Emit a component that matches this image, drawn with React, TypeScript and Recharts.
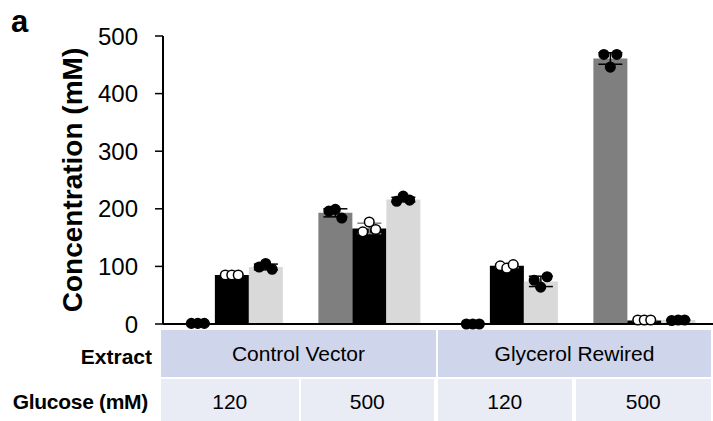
import React from "react";
import {
  Bar,
  ComposedChart,
  ErrorBar,
  Scatter,
  XAxis,
  YAxis,
} from "recharts";

const groups = ["CV-120", "CV-500", "GR-120", "GR-500"];
const extracts = ["Control Vector", "Glycerol Rewired"];
const glucose = ["120", "500", "120", "500"];
const yTicks = [0, 100, 200, 300, 400, 500];

// bar means (mM)
const grayMean = [1, 193, 0.5, 461];
const blackMean = [85, 166, 101, 6];
const lightMean = [99, 216, 74, 7];

// error (SD)
const grayErr = [0.5, 7, 0.5, 10];
const blackErr = [1, 9, 3, 1];
const lightErr = [5, 4, 9, 1];

// individual replicates, left / middle / right
const grayReps = [
  [1, 1, 1],
  [196, 199, 184],
  [0, 0, 0],
  [468, 446, 468],
];
const blackReps = [
  [85, 85, 85],
  [160, 177, 164],
  [101, 97, 103],
  [7, 7, 7],
];
const lightReps = [
  [99, 105, 95],
  [213, 222, 215],
  [76, 64, 82],
  [6, 7, 7],
];

const FONT = "'Liberation Sans', Arial, sans-serif";
const W = 713;
const PLOT_LEFT = 163;
const GAP = 0.13; // barCategoryGap as fraction of band
const JITTER = 0.047;

const rows = groups.map((name, i) => ({
  name,
  gray: grayMean[i],
  black: blackMean[i],
  light: lightMean[i],
  grayErr: grayErr[i],
  blackErr: blackErr[i],
  lightErr: lightErr[i],
}));

const barW = (1 - 2 * GAP) / 3;
function dots(reps: number[][], s: number) {
  return reps.flatMap((r, i) =>
    r.map((v, j) => ({ x: i + GAP + barW * (s + 0.5) + (j - 1) * JITTER, y: v }))
  );
}

const dot = (fill: string) => (p: any) =>
  <circle cx={p.cx} cy={p.cy} r={4.8} fill={fill} stroke="#000" strokeWidth={1.5} />;

export default function App() {
  const band = (W - PLOT_LEFT) / groups.length;
  return (
    <div style={{ position: "absolute", left: 0, top: 0, width: W, height: 421, background: "#fff", fontFamily: FONT, overflow: "hidden" }}>
      <div style={{ position: "absolute", left: 11, top: 4, fontSize: 31, fontWeight: 700, lineHeight: "36px" }}>a</div>
      <ComposedChart
        width={W}
        height={345}
        data={rows}
        margin={{ top: 36, right: 0, bottom: 20, left: 0 }}
        barCategoryGap={`${GAP * 100}%`}
        barGap={0}
      >
        <XAxis
          xAxisId="cat"
          dataKey="name"
          type="category"
          height={1}
          tick={false}
          tickLine={false}
          axisLine={{ stroke: "#000", strokeWidth: 2 }}
        />
        <XAxis xAxisId="num" dataKey="x" type="number" domain={[0, groups.length]} allowDataOverflow hide />
        <YAxis
          width={PLOT_LEFT}
          domain={[0, 500]}
          ticks={yTicks}
          interval={0}
          tickSize={8}
          tickMargin={17}
          axisLine={{ stroke: "#000", strokeWidth: 2 }}
          tickLine={{ stroke: "#000", strokeWidth: 1.5 }}
          tick={{ fontSize: 24, fill: "#000", fontFamily: FONT }}
          label={{
            content: ({ viewBox }: any) => {
              const x = 72;
              const y = viewBox.y + viewBox.height / 2;
              return (
                <text
                  x={x}
                  y={y}
                  transform={`rotate(-90, ${x}, ${y})`}
                  textAnchor="middle"
                  dominantBaseline="central"
                  fontSize={28}
                  fontWeight={700}
                  fontFamily={FONT}
                  fill="#000"
                >
                  Concentration (mM)
                </text>
              );
            },
          }}
        />
        <Bar xAxisId="cat" dataKey="gray" fill="#7f7f7f" isAnimationActive={false}>
          <ErrorBar dataKey="grayErr" width={12} stroke="#000" strokeWidth={1.5} direction="y" />
        </Bar>
        <Bar xAxisId="cat" dataKey="black" fill="#000000" isAnimationActive={false}>
          <ErrorBar dataKey="blackErr" width={12} stroke="#808080" strokeWidth={1.5} direction="y" />
        </Bar>
        <Bar xAxisId="cat" dataKey="light" fill="#d9d9d9" isAnimationActive={false}>
          <ErrorBar dataKey="lightErr" width={12} stroke="#000" strokeWidth={1.5} direction="y" />
        </Bar>
        <Scatter xAxisId="num" data={dots(grayReps, 0)} dataKey="y" shape={dot("#000")} isAnimationActive={false} />
        <Scatter xAxisId="num" data={dots(blackReps, 1)} dataKey="y" shape={dot("#fff")} isAnimationActive={false} />
        <Scatter xAxisId="num" data={dots(lightReps, 2)} dataKey="y" shape={dot("#000")} isAnimationActive={false} />
      </ComposedChart>

      {/* table under the chart */}
      <div style={{ position: "absolute", left: 0, width: 152, textAlign: "right", top: 333, height: 47, lineHeight: "48px", fontSize: 21, fontWeight: 700 }}>
        Extract
      </div>
      <div style={{ position: "absolute", left: 0, width: 148, textAlign: "right", top: 379, height: 42, lineHeight: "46px", fontSize: 21, fontWeight: 700, whiteSpace: "nowrap", letterSpacing: -0.3 }}>
        Glucose (mM)
      </div>
      {extracts.map((e, i) => (
        <div
          key={e}
          style={{
            position: "absolute",
            left: PLOT_LEFT - 2 + i * 2 * band + (i ? 2 : 0),
            width: 2 * band - (i ? 2 : 0) + (i ? 0 : 2),
            top: 330,
            height: 47,
            lineHeight: "48px",
            background: "#cfd5ea",
            textAlign: "center",
            fontSize: 21,
            boxSizing: "border-box",
            borderRight: i ? "none" : "2px solid #fff",
          }}
        >
          {e}
        </div>
      ))}
      {glucose.map((g, i) => (
        <div
          key={i}
          style={{
            position: "absolute",
            left: PLOT_LEFT - 2 + i * band + (i ? 2 : 0),
            width: band - (i ? 2 : 0) + (i ? 0 : 2),
            top: 379,
            height: 42,
            lineHeight: "46px",
            background: "#e9ebf5",
            textAlign: "center",
            fontSize: 21,
            boxSizing: "border-box",
            borderRight: i === 3 ? "none" : "2px solid #fff",
          }}
        >
          {g}
        </div>
      ))}
    </div>
  );
}
